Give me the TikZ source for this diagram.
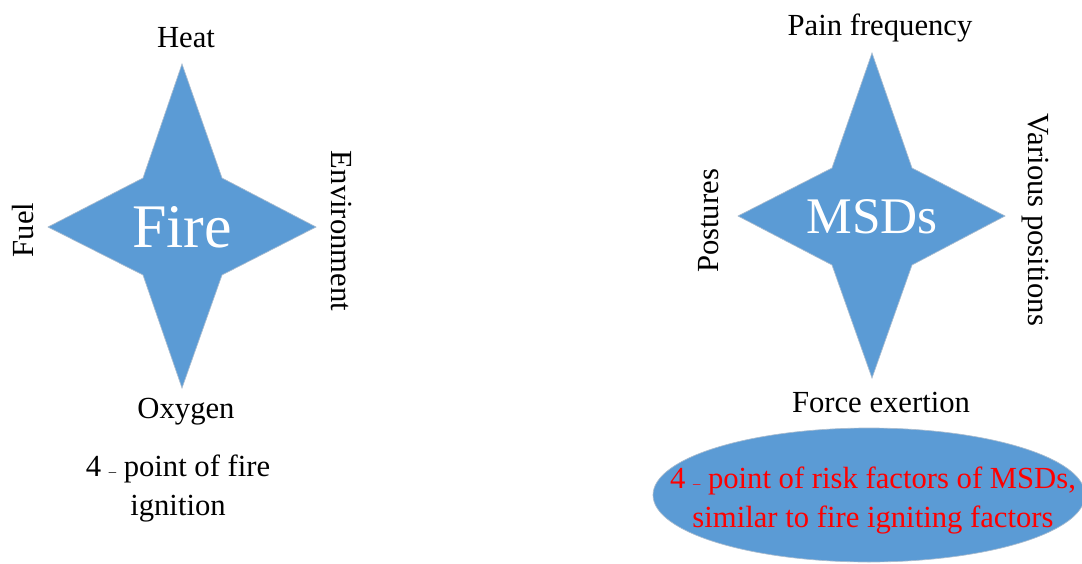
\documentclass[tikz,border=0pt]{standalone}
\usepackage{fontspec}
\setmainfont{Liberation Serif}
\usetikzlibrary{shapes.geometric}
\definecolor{starblue}{HTML}{5B9BD5}
\definecolor{rimgray}{HTML}{A9BCCF}
\begin{document}
\begin{tikzpicture}[x=0.75pt,y=-0.75pt,
  starshape/.style={fill=starblue,draw=rimgray,line width=0.5pt,line join=miter},
  lbl/.style={font=\fontsize{23}{29.25}\selectfont,text=black,inner sep=0pt},
  core/.style={font=\fontsize{#1}{#1}\selectfont,text=white,inner sep=0pt},
  note/.style={font=\fontsize{23}{29.25}\selectfont,align=center,inner sep=0pt}]
\useasboundingbox (0,0) rectangle (1082,564);
\clip (0,0) rectangle (1082,564);

% four-point star: fire
\path[starshape] (182,64) -- (222,178) -- (316,227) -- (222,275) -- (182,388)
  -- (143,275) -- (48,227) -- (143,178) -- cycle;
\node[core=46.5,anchor=base] (fire) at (182,247) {Fire};
\node[lbl,anchor=base] (heat) at (186,47) {Heat};
\node[lbl,anchor=base] (oxygen) at (186,418) {Oxygen};
\node[lbl,anchor=base,rotate=90] (fuel) at (33,230) {Fuel};
\node[lbl,anchor=base,rotate=-90] (env) at (331,231) {Environment};
\node[note] (firenote) at (178,489)
  {4 {\fontsize{11}{11}\selectfont –} point of fire\\ignition};

% four-point star: MSDs
\path[starshape] (872,53) -- (912,168) -- (1005,216) -- (912,265) -- (872,378)
  -- (832,265) -- (738,216) -- (832,168) -- cycle;
\node[core=38.5,anchor=base] (msds) at (872,233) {MSDs};
\node[lbl,anchor=base] (pain) at (880,35) {Pain frequency};
\node[lbl,anchor=base] (force) at (881,412) {Force exertion};
\node[lbl,anchor=base,rotate=90] (postures) at (718,221) {Postures};
\node[lbl,anchor=base,rotate=-90] (various) at (1028,220) {Various positions};

% summary ellipse
\fill[starblue] (869,495) ellipse [x radius=162pt, y radius=50.25pt];
\draw[rimgray,line width=0.5pt] (869,495) ellipse [x radius=162pt, y radius=50.25pt];
\node[note,text=red] (msdnote) at (873,501)
  {4 {\fontsize{11}{11}\selectfont –} point of risk factors of MSDs,\\similar to fire igniting factors};
\end{tikzpicture}
\end{document}
